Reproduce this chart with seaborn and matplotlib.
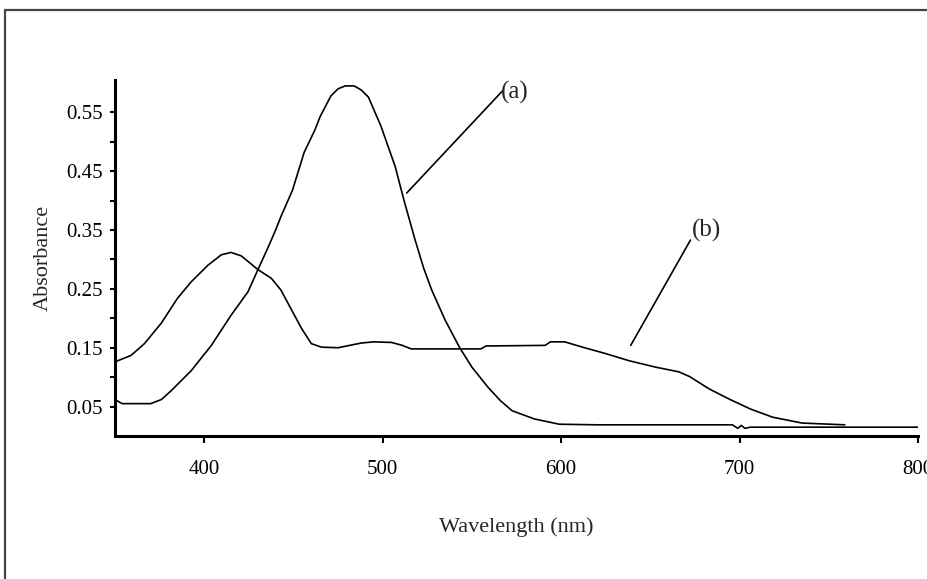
import matplotlib
matplotlib.use('Agg')
import numpy as np
import pandas as pd
import seaborn as sns
import matplotlib.pyplot as plt
from matplotlib.lines import Line2D

# curve (a): big band near 480 nm
wl_a = [351, 354, 370, 376, 381.5, 392.7, 404, 415, 424.5, 430, 436, 440, 443, 449.5, 456,
        462, 465, 471, 475, 479, 484, 488, 492, 499, 507, 512, 518, 523, 527.5, 535, 543, 550,
        559, 566, 572.5, 585, 599, 620, 696, 699, 701, 703, 706, 800]
abs_a = [0.060, 0.055, 0.055, 0.062, 0.077, 0.111, 0.154, 0.205, 0.245, 0.282, 0.322, 0.350,
         0.373, 0.418, 0.482, 0.520, 0.543, 0.578, 0.590, 0.595, 0.595, 0.588, 0.576, 0.527,
         0.458, 0.400, 0.335, 0.285, 0.248, 0.197, 0.151, 0.117, 0.083, 0.060, 0.043, 0.029,
         0.020, 0.019, 0.019, 0.013, 0.018, 0.013, 0.015, 0.015]

# curve (b): band near 415 nm with a broad plateau
wl_b = [350, 359, 366.5, 376, 385, 392.7, 402, 409.6, 415, 420.8, 430, 437.6, 443, 449,
        454.5, 460, 465.7, 475, 488, 495, 505, 511, 516, 555, 558, 591, 594, 602, 612, 625,
        638, 653, 666, 672, 683, 694, 706, 718.5, 735, 759]
abs_b = [0.126, 0.137, 0.157, 0.192, 0.234, 0.262, 0.290, 0.308, 0.312, 0.306, 0.283, 0.268,
         0.248, 0.214, 0.183, 0.157, 0.151, 0.150, 0.158, 0.160, 0.159, 0.154, 0.148, 0.148,
         0.153, 0.154, 0.160, 0.160, 0.151, 0.140, 0.128, 0.117, 0.109, 0.101, 0.080, 0.063,
         0.046, 0.032, 0.022, 0.019]

# leader lines and labels
labels = ['(a)', '(b)']
leader_x = [[513.5, 567], [639, 672.5]]
leader_y = [[0.413, 0.586], [0.154, 0.333]]
label_x = [574, 681.5]
label_y = [0.584, 0.350]

x_ticks = [400, 500, 600, 700, 800]
y_ticks = [0.05, 0.15, 0.25, 0.35, 0.45, 0.55]
y_minor = [0.1, 0.2, 0.3, 0.4, 0.5]

sns.set_style('ticks')
plt.rcParams['font.family'] = ['Liberation Serif', 'DejaVu Serif']

W, H = 928, 579
fig = plt.figure(figsize=(W / 100, H / 100), dpi=100)
ax = fig.add_axes([115 / W, 1 - 436 / H, (918 - 115) / W, (436 - 80) / H])

df_a = pd.DataFrame({'wl': wl_a, 'A': abs_a})
df_b = pd.DataFrame({'wl': wl_b, 'A': abs_b})
sns.lineplot(data=df_a, x='wl', y='A', color='black', lw=1.2, sort=False, ax=ax)
sns.lineplot(data=df_b, x='wl', y='A', color='black', lw=1.2, sort=False, ax=ax)

for lx, ly, tx, ty, t in zip(leader_x, leader_y, label_x, label_y, labels):
    ax.plot(lx, ly, color='black', lw=1.2)
    ax.text(tx, ty, t, fontsize=18, ha='center', va='center')

ax.set_xlim(350, 800)
ax.set_ylim(0, 0.605)
ax.set_xticks(x_ticks)
ax.set_yticks(y_ticks)
ax.set_yticklabels(['%.2f' % v for v in y_ticks])
ax.set_yticks(y_minor, minor=True)
ax.tick_params(axis='both', which='both', direction='out', width=1.5, color='black',
               labelsize=15, labelcolor='black')
ax.tick_params(axis='x', length=5, pad=12)
ax.tick_params(axis='y', which='both', length=3.5, pad=5)

sns.despine(ax=ax)
for side in ['left', 'bottom']:
    ax.spines[side].set_linewidth(2.2)
    ax.spines[side].set_color('black')

ax.set_xlabel('Wavelength (nm)', fontsize=16)
ax.set_ylabel('Absorbance', fontsize=16)
ax.xaxis.set_label_coords(0.5, -0.228)
ax.yaxis.set_label_coords(-0.077, 0.5)

# outer frame (left and top edges only, the rest is cropped)
frame_kw = dict(transform=fig.transFigure, color='#444444', lw=1.6)
fig.add_artist(Line2D([5.5 / W, 5.5 / W], [0, 1 - 10 / H], **frame_kw))
fig.add_artist(Line2D([5.5 / W, 1], [1 - 10 / H, 1 - 10 / H], **frame_kw))

fig.savefig('out.png', dpi=100, facecolor='white')
